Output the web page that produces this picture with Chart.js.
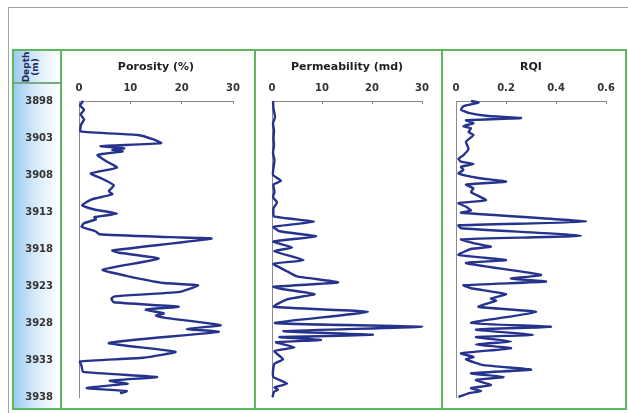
<!DOCTYPE html>
<html>
<head>
<meta charset="UTF-8">
<script src="https://cdn.jsdelivr.net/npm/chart.js"></script>
<style>
  body { margin: 0; background: #fff; }
  #page { position: relative; width: 628px; height: 413px; overflow: hidden; font-family: 'DejaVu Sans', sans-serif; }
  .gline { position: absolute; background: #a4a4a4; }
  .box { position: absolute; top: 49px; height: 361px; border: 2px solid #5cb85c; box-sizing: border-box; }
  .depth-bg { position: absolute; left: 14px; top: 51px; width: 46px; height: 357px;
              background: linear-gradient(to right, #9ccbef 0%, #d4e9f9 45%, #ffffff 95%); }
  .depth-sep { position: absolute; left: 14px; top: 82px; width: 46px; height: 2px; background: #7aa88a; }
  .depth-head { position: absolute; left: 14px; top: 51px; width: 46px; height: 31px; }
  .depth-head div { position: absolute; left: 17px; top: 16px; transform: translate(-50%, -50%) rotate(-90deg);
                    font-size: 9px; font-weight: bold; line-height: 9px; color: #1c2a5e; text-align: center; white-space: nowrap; }
  .chart { position: absolute; top: 50px; height: 359px; }
</style>
</head>
<body>
<div id="page">
  <div class="gline" style="left:8px; top:7px; width:620px; height:1px;"></div>
  <div class="gline" style="left:8px; top:7px; width:1px; height:406px;"></div>

  <div class="depth-bg"></div>
  <div class="box" style="left:12px; width:50px;"></div>
  <div class="box" style="left:60px; width:196px;"></div>
  <div class="box" style="left:254px; width:189px;"></div>
  <div class="box" style="left:441px; width:186px;"></div>
  <div class="depth-sep"></div>
  <div class="depth-head"><div>Depth<br>(m)</div></div>

  <div class="chart" style="left:12px; width:243px;"><canvas id="porChart"></canvas></div>
  <div class="chart" style="left:255px; width:186px;"><canvas id="permChart"></canvas></div>
  <div class="chart" style="left:441px; width:184px;"><canvas id="rqiChart"></canvas></div>
</div>

<script>
  // depth axis
  const depthTicks = [3898, 3903, 3908, 3913, 3918, 3923, 3928, 3933, 3938];

  // Porosity (%)
  const porTicks = [0, 10, 20, 30];
  const porDepth = [3898.0, 3898.6, 3899.2, 3899.8, 3900.5, 3901.2, 3902.1, 3902.6, 3903.2, 3903.7,
                    3904.1, 3904.4, 3904.6, 3904.8, 3905.3, 3906.2, 3907.0, 3907.8, 3908.5, 3909.4,
                    3910.2, 3910.6, 3911.3, 3912.1, 3912.7, 3913.2, 3913.7, 3914.0, 3914.5, 3915.0,
                    3915.6, 3916.0, 3916.4, 3916.6, 3918.2, 3918.5, 3919.3, 3920.8, 3921.6, 3922.6,
                    3922.9, 3923.8, 3924.4, 3924.7, 3925.2, 3925.8, 3926.2, 3926.7, 3927.0, 3927.3,
                    3928.3, 3928.8, 3929.2, 3930.7, 3931.9, 3932.7, 3933.2, 3933.8, 3934.6, 3935.3,
                    3935.8, 3936.2, 3936.4, 3936.8, 3937.2, 3937.5];
  const porValue = [0.8, 0.2, 1.0, 0.3, 1.0, 0.4, 0.3, 11.5, 14.5, 16.0,
                    4.2, 8.8, 6.5, 8.5, 3.6, 5.5, 7.4, 2.3, 4.5, 6.8,
                    5.8, 6.5, 2.5, 0.6, 3.2, 7.4, 3.0, 3.3, 1.0, 0.5,
                    3.2, 4.0, 18.0, 25.8, 6.5, 7.8, 15.5, 4.6, 9.0, 16.5,
                    23.2, 19.6, 7.0, 6.3, 6.8, 19.4, 13.0, 16.5, 15.0, 16.8,
                    27.6, 21.0, 27.2, 5.8, 18.8, 12.5, 0.2, 0.5, 0.8, 15.2,
                    6.0, 9.5, 6.5, 1.5, 9.3, 8.0];

  // Permeability (md)
  const permTicks = [0, 10, 20, 30];
  const permDepth = [3898.0, 3899.0, 3900.2, 3901.0, 3902.0, 3903.0, 3904.0, 3905.0, 3906.0, 3907.0,
                     3908.0, 3908.8, 3909.3, 3910.3, 3911.0, 3911.7, 3912.5, 3913.6, 3914.3, 3915.0,
                     3915.6, 3916.3, 3917.0, 3917.8, 3918.3, 3919.5, 3920.0, 3921.0, 3921.7, 3922.5,
                     3923.1, 3923.4, 3924.1, 3924.8, 3925.8, 3926.5, 3928.0, 3928.5, 3929.1, 3929.6,
                     3929.9, 3930.3, 3930.6, 3931.3, 3931.8, 3932.9, 3933.5, 3934.5, 3935.3, 3936.2,
                     3936.7, 3937.0, 3937.3, 3938.0];
  const permValue = [0.2, 0.3, 0.6, 0.2, 0.4, 0.3, 0.4, 0.2, 0.5, 0.3,
                     0.2, 1.8, 0.3, 0.5, 0.2, 1.0, 0.3, 0.4, 8.4, 0.3,
                     1.5, 8.8, 0.3, 4.0, 0.5, 6.3, 0.3, 3.0, 5.0, 13.2,
                     0.3, 2.0, 8.5, 3.0, 0.4, 19.2, 0.6, 30.0, 2.3, 20.2,
                     1.5, 9.8, 0.8, 4.5, 0.5, 2.2, 0.5, 0.2, 0.3, 3.0,
                     0.5, 1.2, 0.4, 0.1];

  // RQI
  const rqiTicks = [0, 0.2, 0.4, 0.6];
  const rqiDepth = [3898.0, 3898.2, 3898.7, 3899.2, 3899.6, 3900.0, 3900.3, 3900.6, 3901.0, 3901.4,
                    3901.7, 3902.2, 3902.6, 3903.5, 3904.5, 3905.3, 3905.8, 3906.2, 3906.5, 3906.9,
                    3907.3, 3907.8, 3908.4, 3908.9, 3909.3, 3909.8, 3910.3, 3911.4, 3911.8, 3912.3,
                    3912.8, 3913.1, 3914.3, 3914.8, 3915.2, 3916.2, 3916.7, 3917.2, 3917.7, 3918.0,
                    3918.8, 3919.5, 3919.9, 3921.5, 3922.0, 3922.4, 3922.9, 3923.3, 3924.1, 3924.7,
                    3925.0, 3925.8, 3926.5, 3928.0, 3928.5, 3928.9, 3929.6, 3929.9, 3930.5, 3930.9,
                    3931.4, 3932.1, 3932.6, 3932.9, 3933.7, 3934.3, 3934.8, 3935.3, 3935.7, 3936.4,
                    3936.8, 3937.2, 3937.5, 3938.0];
  const rqiValue = [0.06, 0.09, 0.03, 0.02, 0.05, 0.12, 0.26, 0.04, 0.07, 0.03,
                    0.06, 0.05, 0.07, 0.04, 0.05, 0.03, 0.01, 0.02, 0.07, 0.02,
                    0.03, 0.01, 0.09, 0.20, 0.04, 0.07, 0.06, 0.12, 0.01, 0.04,
                    0.06, 0.02, 0.52, 0.01, 0.02, 0.50, 0.02, 0.07, 0.14, 0.06,
                    0.01, 0.20, 0.04, 0.34, 0.22, 0.36, 0.03, 0.06, 0.20, 0.14,
                    0.16, 0.09, 0.32, 0.06, 0.38, 0.08, 0.31, 0.08, 0.22, 0.08,
                    0.22, 0.02, 0.07, 0.04, 0.11, 0.30, 0.06, 0.19, 0.08, 0.14,
                    0.06, 0.10, 0.05, 0.01];

  const FONT = "'DejaVu Sans', sans-serif";
  const LINE = '#26338d';
  const AXIS = '#8a8a8a';

  const makeChart = (id, title, depth, vals, xTicks, yWidth, padRight, showDepth) => {
    new Chart(document.getElementById(id), {
      type: 'scatter',
      data: {
        datasets: [{
          data: depth.map((d, i) => ({ x: vals[i], y: d })),
          showLine: true, borderColor: LINE, borderWidth: 2.4,
          pointRadius: 0, tension: 0.15, clip: false
        }]
      },
      options: {
        responsive: true, maintainAspectRatio: false, animation: false,
        layout: { padding: { left: 0, top: 0, right: padRight, bottom: 12 } },
        plugins: { legend: { display: false }, tooltip: { enabled: false } },
        scales: {
          x: {
            type: 'linear', position: 'top',
            min: xTicks[0], max: xTicks[xTicks.length - 1],
            afterBuildTicks: s => { s.ticks = xTicks.map(v => ({ value: v })); },
            afterFit: s => { s.height = 51; },
            grid: { drawOnChartArea: false, color: AXIS, tickLength: -3 },
            border: { color: AXIS, width: 1 },
            ticks: { color: '#333', padding: 10, maxRotation: 0,
                     font: { family: FONT, size: 10, weight: 'bold' } },
            title: { display: true, text: title, color: '#1e1e1e',
                     font: { family: FONT, size: 11, weight: 'bold' },
                     padding: { top: 11, bottom: 0 } }
          },
          y: {
            type: 'linear', reverse: true, min: 3898, max: 3938,
            afterBuildTicks: s => { s.ticks = depthTicks.map(v => ({ value: v })); },
            // keep the depth labels from pushing the plot area in
            afterFit: s => { s.width = yWidth; s.paddingTop = 0; s.paddingBottom = 0; },
            grid: { display: false, drawTicks: false },
            border: { color: AXIS, width: 1 },
            ticks: { display: showDepth, color: '#333', padding: 26,
                     callback: v => String(v),
                     font: { family: FONT, size: 10, weight: 'bold' } }
          }
        }
      }
    });
  };

  makeChart('porChart', 'Porosity (%)', porDepth, porValue, porTicks, 67, 22, true);
  makeChart('permChart', 'Permeability (md)', permDepth, permValue, permTicks, 17, 19, false);
  makeChart('rqiChart', 'RQI', rqiDepth, rqiValue, rqiTicks, 15, 19, false);
</script>
</body>
</html>
